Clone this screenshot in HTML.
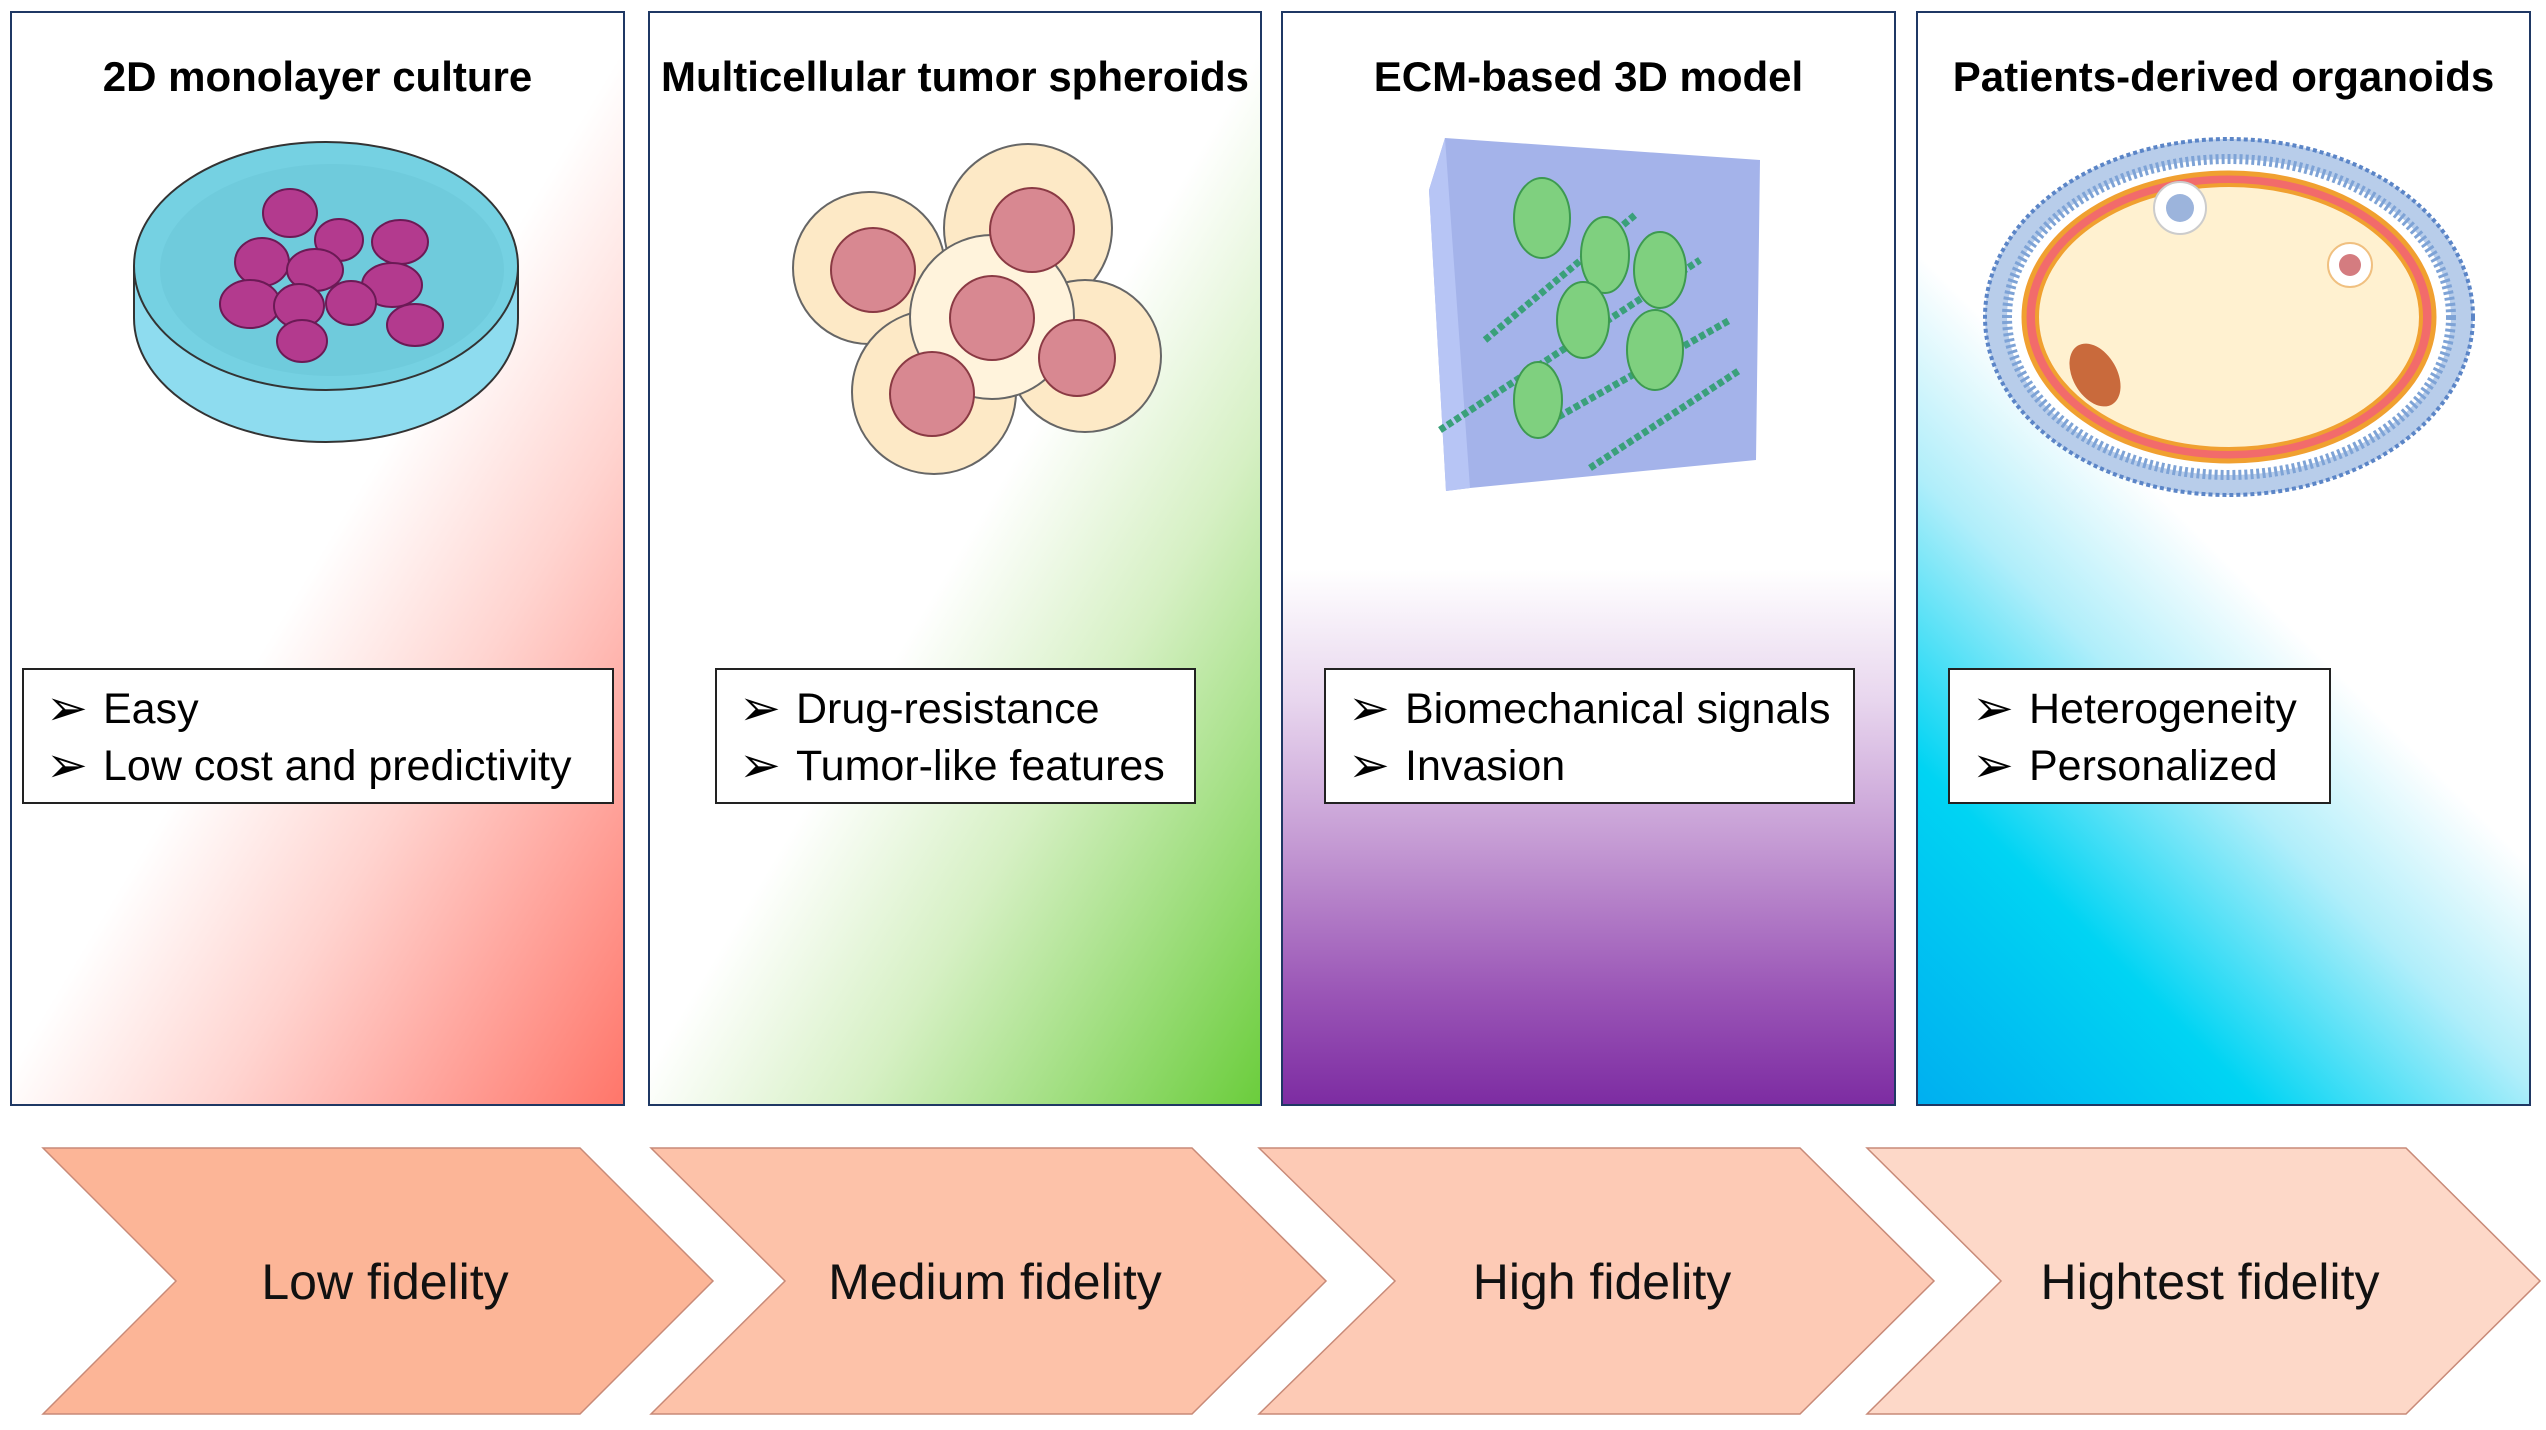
<!DOCTYPE html>
<html><head><meta charset="utf-8"><style>
html,body{margin:0;padding:0;background:#fff;}
body{width:2546px;height:1430px;position:relative;overflow:hidden;font-family:"Liberation Sans",sans-serif;}
.p{position:absolute;top:11px;height:1095px;border:2px solid #1f3864;box-sizing:border-box;}
.t{position:absolute;top:40px;left:0;right:0;text-align:center;font-weight:bold;font-size:42px;color:#000;white-space:nowrap;}
.b{position:absolute;top:668px;height:136px;background:#fff;border:2px solid #222;box-sizing:border-box;font-size:43px;line-height:57px;padding:11px 0 0 22px;white-space:nowrap;}
.b span{display:inline-block;width:57px;font-size:50px;vertical-align:top;line-height:54px;}
.c{position:absolute;font-size:50px;color:#111;white-space:nowrap;transform:translate(-50%,-50%);top:1282px;}
</style></head><body>
<div class="p" style="left:10px;width:615px;background:linear-gradient(121deg,#fff 0%,#fff 50%,#ffd4d0 68%,#ff766a 100%)"><div class="t">2D monolayer culture</div></div>
<div class="p" style="left:648px;width:614px;background:linear-gradient(121deg,#fff 0%,#fff 50%,#d6f0c4 68%,#6bcd3c 100%)"><div class="t">Multicellular tumor spheroids</div></div>
<div class="p" style="left:1281px;width:615px;background:linear-gradient(180deg,#fff 0%,#fff 51%,#e8d6ee 63%,#c59bd4 76%,#9a55b6 90%,#7d2ca2 100%)"><div class="t">ECM-based 3D model</div></div>
<div class="p" style="left:1916px;width:615px;background:linear-gradient(225deg,#fff 0%,#fff 50%,#b0eefa 63%,#00d4f3 80%,#00aff0 100%)"><div class="t">Patients-derived organoids</div></div>

<svg style="position:absolute;left:0;top:0" width="2546" height="1430">
<!-- petri dish -->
<ellipse cx="326" cy="318" rx="192" ry="124" fill="#8edcef" stroke="#333" stroke-width="2"/>
<rect x="134" y="266" width="384" height="52" fill="#8edcef"/>
<line x1="134" y1="266" x2="134" y2="318" stroke="#333" stroke-width="2"/>
<line x1="518" y1="266" x2="518" y2="318" stroke="#333" stroke-width="2"/>
<ellipse cx="326" cy="266" rx="192" ry="124" fill="#75d1e2" stroke="#333" stroke-width="2"/>
<ellipse cx="332" cy="270" rx="172" ry="106" fill="#6fcbdc"/>
<g fill="#b33a8e" stroke="#6b1a55" stroke-width="2">
<ellipse cx="290" cy="213" rx="27" ry="24"/><ellipse cx="339" cy="240" rx="24" ry="21"/>
<ellipse cx="400" cy="242" rx="28" ry="22"/><ellipse cx="262" cy="262" rx="27" ry="24"/>
<ellipse cx="315" cy="270" rx="28" ry="21"/><ellipse cx="392" cy="285" rx="30" ry="22"/>
<ellipse cx="250" cy="304" rx="30" ry="24"/><ellipse cx="299" cy="306" rx="25" ry="22"/>
<ellipse cx="351" cy="303" rx="25" ry="22"/><ellipse cx="415" cy="325" rx="28" ry="21"/>
<ellipse cx="302" cy="341" rx="25" ry="21"/></g>
<!-- spheroids -->
<g stroke="#666" stroke-width="2">
<circle cx="869" cy="268" r="76" fill="#fde9c6"/><circle cx="1028" cy="228" r="84" fill="#fde9c6"/>
<circle cx="1085" cy="356" r="76" fill="#fde9c6"/><circle cx="934" cy="392" r="82" fill="#fde9c6"/>
<circle cx="992" cy="317" r="82" fill="#fff3dc"/>
</g>
<g fill="#d88891" stroke="#8a3a44" stroke-width="2">
<circle cx="873" cy="270" r="42"/><circle cx="1032" cy="230" r="42"/><circle cx="1077" cy="358" r="38"/>
<circle cx="932" cy="394" r="42"/><circle cx="992" cy="318" r="42"/></g>
<!-- ECM cube -->
<polygon points="1445,138 1429,190 1446,491 1470,488 1756,460 1760,160" fill="#a4b3ea"/>
<polygon points="1445,138 1429,190 1446,491 1470,488" fill="#b7c5f5"/>
<g stroke="#3aa07a" stroke-width="7" stroke-dasharray="6 3">
<line x1="1485" y1="340" x2="1635" y2="215"/><line x1="1440" y1="430" x2="1700" y2="260"/>
<line x1="1535" y1="430" x2="1730" y2="320"/><line x1="1590" y1="468" x2="1740" y2="370"/></g>
<g fill="#7fd07f" stroke="#3d9a50" stroke-width="2">
<ellipse cx="1542" cy="218" rx="28" ry="40"/><ellipse cx="1605" cy="255" rx="24" ry="38"/>
<ellipse cx="1660" cy="270" rx="26" ry="38"/><ellipse cx="1583" cy="320" rx="26" ry="38"/>
<ellipse cx="1655" cy="350" rx="28" ry="40"/><ellipse cx="1538" cy="400" rx="24" ry="38"/></g>
<!-- organoid -->
<ellipse cx="2229" cy="317" rx="244" ry="178" fill="#b8cdea" stroke="#5b85c7" stroke-width="4" stroke-dasharray="4 3"/>
<ellipse cx="2229" cy="317" rx="222" ry="158" fill="#fff" stroke="#7ea3d6" stroke-width="10" stroke-dasharray="3 3"/>
<ellipse cx="2229" cy="317" rx="205" ry="144" fill="#f26b6b" stroke="#f0a030" stroke-width="5"/>
<ellipse cx="2229" cy="317" rx="192" ry="132" fill="#fff1d0" stroke="#f0a030" stroke-width="4"/>
<circle cx="2180" cy="208" r="26" fill="#fff" stroke="#ccc" stroke-width="2"/><circle cx="2180" cy="208" r="14" fill="#9cb4dc"/>
<circle cx="2350" cy="265" r="22" fill="#fff" stroke="#f0c080" stroke-width="2"/><circle cx="2350" cy="265" r="11" fill="#d47c80"/>
<ellipse cx="2095" cy="375" rx="22" ry="34" fill="#c96a3c" transform="rotate(-30 2095 375)"/>
<!-- chevrons -->
<g stroke="#c88a78" stroke-width="1.5">
<polygon points="43,1148 580,1148 713,1281 580,1414 43,1414 176,1281" fill="#fcb597"/>
<polygon points="651,1148 1192,1148 1326,1281 1192,1414 651,1414 785,1281" fill="#fdc2a9"/>
<polygon points="1259,1148 1800,1148 1934,1281 1800,1414 1259,1414 1395,1281" fill="#fdcab5"/>
<polygon points="1867,1148 2406,1148 2540,1281 2406,1414 1867,1414 2001,1281" fill="#fdd8c8"/>
</g>
</svg>

<div class="b" style="left:22px;width:592px"><span>&#10146;</span>Easy<br><span>&#10146;</span>Low cost and predictivity</div>
<div class="b" style="left:715px;width:481px"><span>&#10146;</span>Drug-resistance<br><span>&#10146;</span>Tumor-like features</div>
<div class="b" style="left:1324px;width:531px"><span>&#10146;</span>Biomechanical signals<br><span>&#10146;</span>Invasion</div>
<div class="b" style="left:1948px;width:383px"><span>&#10146;</span>Heterogeneity<br><span>&#10146;</span>Personalized</div>

<div class="c" style="left:385px">Low fidelity</div>
<div class="c" style="left:995px">Medium fidelity</div>
<div class="c" style="left:1602px">High fidelity</div>
<div class="c" style="left:2210px">Hightest fidelity</div>
</body></html>
